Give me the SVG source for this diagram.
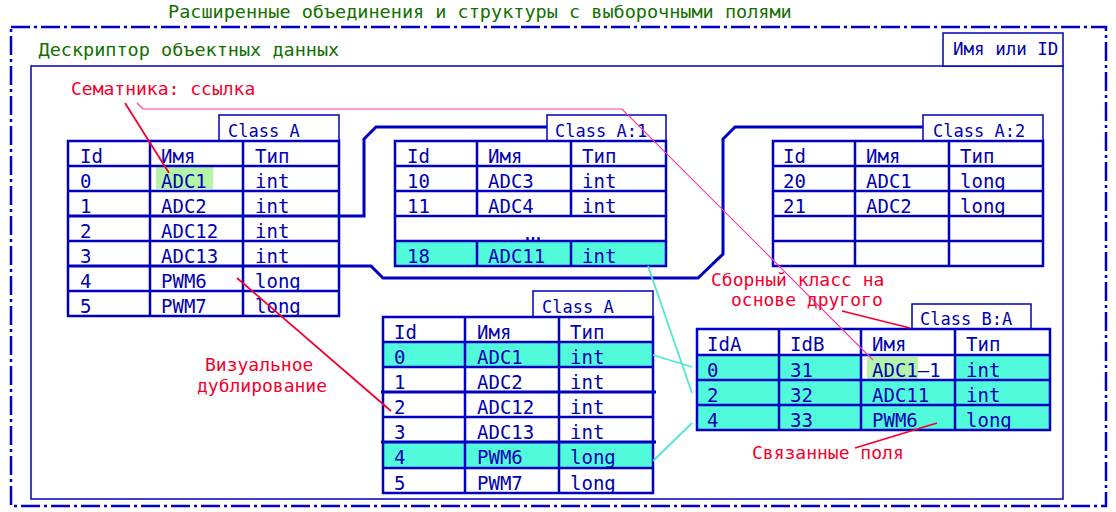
<svg xmlns="http://www.w3.org/2000/svg" width="1116" height="512" viewBox="0 0 1116 512">
<style>
text{font-family:"DejaVu Sans Mono","Liberation Mono",monospace}
.t{font-size:19px;fill:#0000b4}
.c{font-size:17px;fill:#0000b4}
.g{font-size:18.5px;fill:#127000}
.r{font-size:18px;fill:#f5002e}
.grid{fill:none;stroke:#0000c0;stroke-width:2.5}
.box{fill:#fff;stroke:#0000c0;stroke-width:1.5}
.cy{fill:#52fadc}
.hl{fill:#b4f5a8}
.br{fill:none;stroke:#0000c0;stroke-width:3}
.rl{fill:none;stroke:#f5002e;stroke-width:1.8}
.pk{fill:none;stroke:#ff3c9c;stroke-width:1.2}
.cl{fill:none;stroke:#4de8d2;stroke-width:1.8}
</style>
<rect width="1116" height="512" fill="#fff"/>
<g id="frame">
<path d="M11,27H1106V506H11Z" fill="none" stroke="#0000c8" stroke-width="2.5" stroke-dasharray="19 4 3 4"/>
<text class="g" x="168" y="17.5">Расширенные объединения и структуры с выборочными полями</text>
</g>
<g id="descriptor">
<rect x="31" y="66" width="1032" height="433" fill="none" stroke="#0000c0" stroke-width="1.5"/>
<rect class="box" x="943" y="33" width="120" height="33"/>
<text class="g" x="38.5" y="56">Дескриптор объектных данных</text>
<text x="953" y="55" style="font-size:17.5px;fill:#0000b4">Имя или ID</text>
</g>
<g id="classA">
<rect class="box" x="219" y="115" width="120" height="26"/>
<text class="c" x="228" y="137">Class A</text>
<rect class="hl" x="156" y="167" width="57" height="22"/>
<path class="grid" d="M68,141H339V316H68Z M68,166H339 M68,191H339 M68,241H339 M68,291H339 M150,141V316 M243,141V316"/>
<g class="t">
<text x="80" y="163">Id</text><text x="161" y="163">Имя</text><text x="255" y="163">Тип</text>
<text x="80" y="188">0</text><text x="161" y="188">ADC1</text><text x="255" y="188">int</text>
<text x="80" y="213">1</text><text x="161" y="213">ADC2</text><text x="255" y="213">int</text>
<text x="80" y="238">2</text><text x="161" y="238">ADC12</text><text x="255" y="238">int</text>
<text x="80" y="263">3</text><text x="161" y="263">ADC13</text><text x="255" y="263">int</text>
<text x="80" y="288">4</text><text x="161" y="288">PWM6</text><text x="255" y="288">long</text>
<text x="80" y="313">5</text><text x="161" y="313">PWM7</text><text x="255" y="313">long</text>
</g>
</g>
<g id="classA1">
<rect class="box" x="547" y="115" width="119" height="26"/>
<text class="c" x="555" y="137">Class A:1</text>
<rect class="cy" x="395" y="241" width="271" height="25"/>
<path class="grid" d="M395,141H666V266H395Z M395,166H666 M395,191H666 M395,216H666 M395,241H666 M477,141V216 M571,141V216 M477,241V266 M571,241V266"/>
<g class="t">
<text x="407" y="163">Id</text><text x="488" y="163">Имя</text><text x="582" y="163">Тип</text>
<text x="407" y="188">10</text><text x="488" y="188">ADC3</text><text x="582" y="188">int</text>
<text x="407" y="213">11</text><text x="488" y="213">ADC4</text><text x="582" y="213">int</text>
<text x="530" y="240" text-anchor="middle" style="letter-spacing:-6px">...</text>
<text x="407" y="263">18</text><text x="488" y="263">ADC11</text><text x="582" y="263">int</text>
</g>
</g>
<g id="classA2">
<rect class="box" x="923" y="115" width="120" height="26"/>
<text class="c" x="933" y="137">Class A:2</text>
<path class="grid" d="M773,141H1043V266H773Z M773,166H1043 M773,191H1043 M773,216H1043 M773,241H1043 M855,141V266 M949,141V266"/>
<g class="t">
<text x="783" y="163">Id</text><text x="866" y="163">Имя</text><text x="960" y="163">Тип</text>
<text x="783" y="188">20</text><text x="866" y="188">ADC1</text><text x="960" y="188">long</text>
<text x="783" y="213">21</text><text x="866" y="213">ADC2</text><text x="960" y="213">long</text>
</g>
</g>
<g id="classA-copy">
<rect class="box" x="533" y="291" width="120" height="26"/>
<text class="c" x="542" y="313">Class A</text>
<rect class="cy" x="383" y="342" width="270" height="25"/>
<rect class="cy" x="383" y="442" width="270" height="26"/>
<path class="grid" d="M383,317H653V493H383Z M383,342H653 M383,367H653 M383,417H653 M383,468H653 M465,317V493 M559,317V493"/>
<path class="br" d="M381,392H656 M381,442H656"/>
<g class="t">
<text x="394" y="339">Id</text><text x="477" y="339">Имя</text><text x="570" y="339">Тип</text>
<text x="394" y="364">0</text><text x="477" y="364">ADC1</text><text x="570" y="364">int</text>
<text x="394" y="389">1</text><text x="477" y="389">ADC2</text><text x="570" y="389">int</text>
<text x="394" y="414">2</text><text x="477" y="414">ADC12</text><text x="570" y="414">int</text>
<text x="394" y="439">3</text><text x="477" y="439">ADC13</text><text x="570" y="439">int</text>
<text x="394" y="464">4</text><text x="477" y="464">PWM6</text><text x="570" y="464">long</text>
<text x="394" y="490">5</text><text x="477" y="490">PWM7</text><text x="570" y="490">long</text>
</g>
</g>
<g id="classBA">
<rect class="box" x="912" y="304" width="119" height="25"/>
<text class="c" x="920" y="325">Class B:A</text>
<rect class="cy" x="697" y="355" width="353" height="75"/>
<rect x="861" y="355" width="94" height="25" fill="#fff"/>
<rect class="hl" x="867" y="357" width="51" height="22"/>
<path class="grid" d="M697,329H1050V430H697Z M697,355H1050 M697,380H1050 M697,405H1050 M779,329V430 M861,329V430 M955,329V430"/>
<g class="t">
<text x="707" y="351">IdA</text><text x="790" y="351">IdB</text><text x="872" y="351">Имя</text><text x="966" y="351">Тип</text>
<text x="707" y="377">0</text><text x="790" y="377">31</text><text x="872" y="377">ADC1–1</text><text x="966" y="377">int</text>
<text x="707" y="402">2</text><text x="790" y="402">32</text><text x="872" y="402">ADC11</text><text x="966" y="402">int</text>
<text x="707" y="427">4</text><text x="790" y="427">33</text><text x="872" y="427">PWM6</text><text x="966" y="427">long</text>
</g>
</g>
<g id="connectors">
<path class="br" d="M68,216H364V139L376,127H547"/>
<path class="br" d="M68,266H371L383,278H698L723,254V139L735,127H923"/>
<path class="pk" d="M137,103L143,109H622L873,360"/>
<path class="rl" d="M125,103L169,173 M237,278L391,411 M842,311L910,328 M855,448L937,423"/>
<path class="cl" d="M648,266L692,393 M653,355L692,367 M653,461L692,423"/>
</g>
<g id="labels" class="r">
<text x="71" y="95">Сематника: ссылка</text>
<text x="205" y="371">Визуальное</text>
<text x="197" y="392">дублирование</text>
<text x="711" y="286">Сборный класс на</text>
<text x="731" y="306">основе другого</text>
<text x="752" y="459">Связанные поля</text>
</g>
</svg>
